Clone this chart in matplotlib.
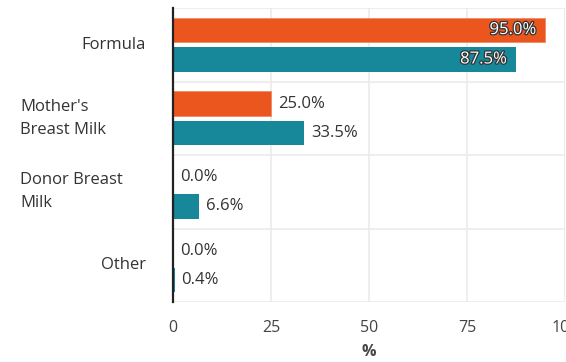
import matplotlib.pyplot as plt
import matplotlib.patheffects as pe
import numpy as np

categories = ["Formula", "Mother's\nBreast Milk", "Donor Breast\nMilk", "Other"]
series_a = [95.0, 25.0, 0.0, 0.0]   # orange
series_b = [87.5, 33.5, 6.6, 0.4]   # teal

orange = "#EA561E"
teal = "#17879A"
plt.rcParams['font.family'] = ['Open Sans', 'DejaVu Sans']

fig = plt.figure(figsize=(5.66, 3.62), dpi=100)
ax = fig.add_axes([173 / 566, 60 / 362, 392 / 566, 294 / 362])

y = np.arange(len(categories))
h = 0.33
off = 0.2
ax.barh(y - off, series_a, height=h, color=orange, edgecolor="#F08A66", linewidth=0.6, zorder=3)
ax.barh(y + off, series_b, height=h, color=teal, linewidth=0, zorder=3)

ax.set_xlim(0, 100)
ax.set_ylim(len(categories) - 0.5, -0.5)
ax.set_xticks([0, 25, 50, 75, 100])
ax.set_yticks(np.arange(-0.5, len(categories), 1))
ax.set_yticklabels([])
ax.tick_params(length=0, labelsize=11.5, colors="#444444", pad=13)
ax.grid(True, color="#EBEBEB", linewidth=1.2, zorder=0)
for s in ["top", "right", "bottom"]:
    ax.spines[s].set_visible(False)
ax.spines["left"].set_color("#222222")
ax.spines["left"].set_linewidth(1.6)
ax.spines["left"].set_zorder(4)

fs = 12
# category labels
for i, c in enumerate(categories):
    if "\n" in c:
        ax.text(-153 / 3.92, i, c, ha="left", va="center", fontsize=fs,
                color="#333333", linespacing=1.55)
    else:
        ax.text(-27 / 3.92, i, c, ha="right", va="center", fontsize=fs, color="#333333")

def label(v, yy):
    t = f"{v:.1f}%"
    if v > 50:
        ax.text(v - 2.3, yy, t, ha="right", va="center", fontsize=fs, color="white",
                zorder=5, path_effects=[pe.withStroke(linewidth=1.8, foreground="#333333")])
    else:
        ax.text(v + 1.8, yy, t, ha="left", va="center", fontsize=fs, color="#333333", zorder=5)

for i in range(len(categories)):
    label(series_a[i], y[i] - off)
    label(series_b[i], y[i] + off)

ax.set_xlabel("%", fontsize=11.5, color="#444444", fontweight="bold", labelpad=6)

fig.savefig("out.png", dpi=100)
